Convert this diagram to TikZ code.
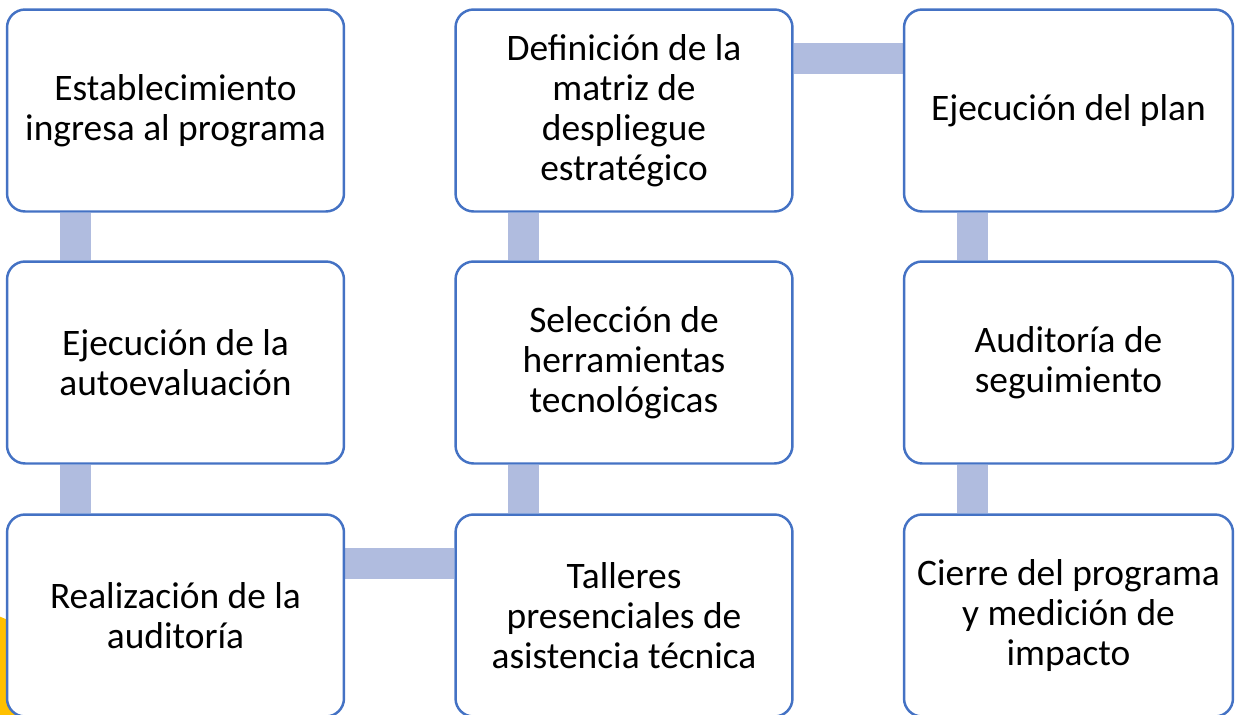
\documentclass[tikz,border=0pt]{standalone}
\usepackage{fontspec}
\setmainfont{Carlito}
\usepackage{xcolor}
\usepackage{tikz}
\usetikzlibrary{backgrounds}

\definecolor{boxblue}{HTML}{4472C4}
\definecolor{barblue}{HTML}{B0BCDF}
\definecolor{sunyellow}{HTML}{FFC000}

\begin{document}
\begin{tikzpicture}[x=0.02cm,y=-0.02cm,
  every node/.style={rectangle, rounded corners=0.36cm, draw=boxblue, line width=1.4pt, fill=white,
    minimum width=6.74cm, minimum height=4.04cm, align=center, inner sep=2pt,
    font=\fontsize{21.3}{22.8}\selectfont},
  bar/.style={barblue, line width=0.62cm}]
\useasboundingbox (0,0) rectangle (1235,714);
% Points
\node (e1) at (175.5,110.5) {Establecimiento\\ingresa al programa};
\node (e2) at (175.5,362.5) {Ejecución de la\\autoevaluación};
\node (e3) at (175.5,615.5) {Realización de la\\auditoría};
\node (m1) at (624,110.5) {Definición de la\\matriz de\\despliegue\\estratégico};
\node (m2) at (624,362.5) {Selección de\\herramientas\\tecnológicas};
\node (m3) at (624,615.5) {Talleres\\presenciales de\\asistencia técnica};
\node[minimum width=6.58cm] (r1) at (1068.5,110.5) {Ejecución del plan};
\node[minimum width=6.58cm] (r2) at (1068.5,362.5) {Auditoría de\\seguimiento};
\node[minimum width=6.58cm] (r3) at (1068.5,615.5) {Cierre del programa\\y medición de\\impacto};

%Lines
\begin{scope}[on background layer]
\fill[sunyellow] (-60,765) circle (160);
\draw[bar] ([xshift=1.39cm]e1.south west) -- ([xshift=1.39cm]e2.north west);
\draw[bar] ([xshift=1.39cm]e2.south west) -- ([xshift=1.39cm]e3.north west);
\draw[bar] ([yshift=-1cm]e3.north east) -- ([yshift=-1cm]m3.north west);
\draw[bar] ([xshift=1.39cm]m3.north west) -- ([xshift=1.39cm]m2.south west);
\draw[bar] ([xshift=1.39cm]m2.north west) -- ([xshift=1.39cm]m1.south west);
\draw[bar] ([yshift=-1cm]m1.north east) -- ([yshift=-1cm]r1.north west);
\draw[bar] ([xshift=1.39cm]r1.south west) -- ([xshift=1.39cm]r2.north west);
\draw[bar] ([xshift=1.39cm]r2.south west) -- ([xshift=1.39cm]r3.north west);
\end{scope}
\end{tikzpicture}
\end{document}
